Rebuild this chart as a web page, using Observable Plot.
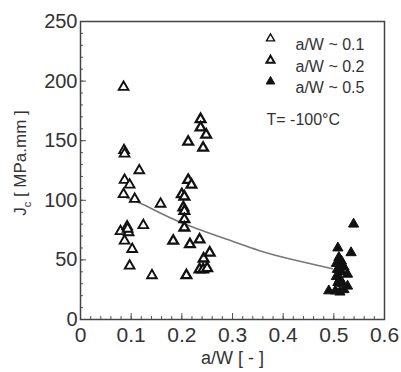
<!DOCTYPE html>
<html><head><meta charset="utf-8">
<script src="https://cdn.jsdelivr.net/npm/d3@7"></script>
<script src="https://cdn.jsdelivr.net/npm/@observablehq/plot@0.6"></script>
<style>
body{margin:0;background:#fff;}
#wrap{position:relative;width:401px;height:372px;font-family:"Liberation Sans",Arial,sans-serif;color:#333;}
#ylab{position:absolute;left:22px;top:163px;transform:translate(-50%,-50%) rotate(-90deg);white-space:nowrap;font-size:17px;color:#333;}
#ylab sub{font-size:11px;}
</style></head><body><div id="wrap"><div id="ylab">J<sub>c</sub> [ MPa.mm ]</div></div>
<script>
// a/W ~ 0.1 (open, thin)
const aw01X = [0.085, 0.086, 0.087, 0.116, 0.087, 0.097, 0.085, 0.107, 0.124, 0.079, 0.092, 0.095, 0.093, 0.087, 0.102, 0.097, 0.141, 0.158];
const aw01Y = [195, 142, 139, 125, 117, 113, 105, 101, 79, 74, 78, 73, 76, 66, 59, 45, 37, 97];
// a/W ~ 0.2 (open, thick)
const aw02X = [0.2125, 0.237, 0.237, 0.248, 0.242, 0.2125, 0.219, 0.200, 0.205, 0.203, 0.205, 0.205, 0.205, 0.183, 0.216, 0.235, 0.243, 0.255, 0.235, 0.242, 0.250, 0.209];
const aw02Y = [149, 168, 161, 155, 144, 117, 113, 105, 103, 94, 91, 84, 77, 66, 63, 67, 51, 56, 42, 42, 43, 37];
// a/W ~ 0.5 (filled)
const aw05X = [0.539, 0.508, 0.534, 0.510, 0.515, 0.505, 0.512, 0.520, 0.507, 0.515, 0.527, 0.505, 0.512, 0.508, 0.517, 0.527, 0.490, 0.503, 0.512, 0.520];
const aw05Y = [80, 60, 56, 52, 49, 47, 45, 44, 42, 40, 38, 36, 34, 31, 30, 28, 24, 24, 23, 25];
// trend line
const fitX = [0.089, 0.128, 0.197, 0.286, 0.352, 0.418, 0.497];
const fitY = [102.6, 95.6, 81.6, 67.7, 57.9, 50.3, 42.5];
// axes
const xTicks = [0, 0.1, 0.2, 0.3, 0.4, 0.5, 0.6];
const xTickLabels = ["0", "0.1", "0.2", "0.3", "0.4", "0.5", "0.6"];
const yTicks = [0, 50, 100, 150, 200, 250];
const yTickLabels = ["0", "50", "100", "150", "200", "250"];
const legendLabels = ["a/W ~ 0.1", "a/W ~ 0.2", "a/W ~ 0.5"];
const tempLabel = "T= -100°C";
const xLabel = "a/W [ - ]";

const xMinor = d3.range(0, 31).map(i => i * 0.02);
const yMinor = d3.range(0, 26).map(i => i * 10);
const zip = (xs, ys) => xs.map((x, i) => ({x, y: ys[i]}));

const W = 401, H = 372, mL = 80, mR = 17, mT = 21, mB = 53;
const fw = W - mL - mR, fh = H - mT - mB;
const legDy = [17, 39, 60];

const chart = Plot.plot({
  width: W, height: H,
  marginLeft: mL, marginRight: mR, marginTop: mT, marginBottom: mB,
  style: {fontFamily: '"Liberation Sans", Arial, sans-serif', color: "#333", background: "transparent"},
  x: {domain: [0, 0.6]},
  y: {domain: [0, 250]},
  marks: [
    Plot.tickX(xMinor, {x: d => d, insetTop: fh - 3, stroke: "#555"}),
    Plot.tickX(xTicks, {x: d => d, insetTop: fh - 6, stroke: "#555"}),
    Plot.tickY(yMinor, {y: d => d, insetRight: fw - 3, stroke: "#555"}),
    Plot.tickY(yTicks, {y: d => d, insetRight: fw - 6, stroke: "#555"}),
    Plot.axisX({ticks: xTicks, tickSize: 0, tickPadding: 8, fontSize: 21, tickFormat: (d, i) => xTickLabels[i], label: null}),
    Plot.axisY({ticks: yTicks, tickSize: 0, tickPadding: 3, fontSize: 20, tickFormat: (d, i) => yTickLabels[i], label: null}),
    Plot.line(zip(fitX, fitY), {x: "x", y: "y", stroke: "#777", strokeWidth: 1.5, curve: "natural"}),
    Plot.dot(zip(aw01X, aw01Y), {x: "x", y: "y", symbol: "triangle", r: 3.6, fill: "white", stroke: "#111", strokeWidth: 1.9}),
    Plot.dot(zip(aw02X, aw02Y), {x: "x", y: "y", symbol: "triangle", r: 3.6, fill: "white", stroke: "#111", strokeWidth: 2.3}),
    Plot.dot(zip(aw05X, aw05Y), {x: "x", y: "y", symbol: "triangle", r: 3.8, fill: "#111", stroke: "#111", strokeWidth: 1}),
    Plot.frame({stroke: "#444", strokeWidth: 1.5}),
    // legend
    Plot.dot([legendLabels[0]], {frameAnchor: "top-left", dx: 190, dy: legDy[0], symbol: "triangle", r: 3, fill: "white", stroke: "#111", strokeWidth: 1.4}),
    Plot.dot([legendLabels[1]], {frameAnchor: "top-left", dx: 190, dy: legDy[1], symbol: "triangle", r: 3, fill: "white", stroke: "#111", strokeWidth: 2}),
    Plot.dot([legendLabels[2]], {frameAnchor: "top-left", dx: 190, dy: legDy[2], symbol: "triangle", r: 3.2, fill: "#111", stroke: "#111", strokeWidth: 1}),
    Plot.text([legendLabels[0]], {frameAnchor: "top-left", dx: 215, dy: legDy[0], text: d => d, fontSize: 16, textAnchor: "start", fill: "#333"}),
    Plot.text([legendLabels[1]], {frameAnchor: "top-left", dx: 215, dy: legDy[1], text: d => d, fontSize: 16, textAnchor: "start", fill: "#333"}),
    Plot.text([legendLabels[2]], {frameAnchor: "top-left", dx: 215, dy: legDy[2], text: d => d, fontSize: 16, textAnchor: "start", fill: "#333"}),
    Plot.text([tempLabel], {frameAnchor: "top-left", dx: 186, dy: 92, text: d => d, fontSize: 16, textAnchor: "start", fill: "#333"}),
    Plot.text([xLabel], {frameAnchor: "bottom", dy: 44, text: d => d, fontSize: 18, fill: "#333"})
  ]
});
chart.style.position = "absolute";
chart.style.left = "0px";
chart.style.top = "0px";
document.getElementById("wrap").appendChild(chart);
</script>
</body></html>
